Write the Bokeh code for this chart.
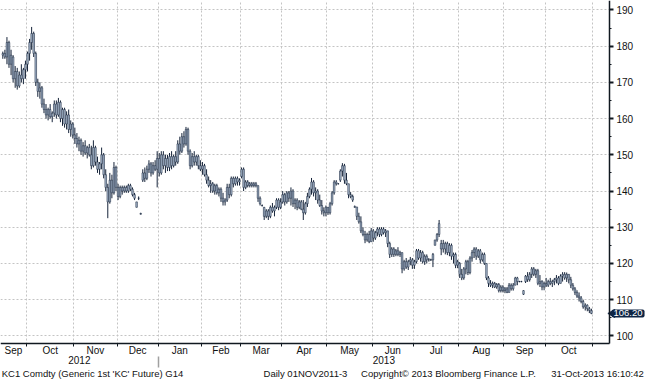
import numpy as np
import pandas as pd
from bokeh.plotting import figure
from bokeh.models import FixedTicker, LinearAxis, ColumnDataSource, Range1d, Label, BoxAnnotation
from bokeh.embed import file_html
from bokeh.resources import INLINE

# ---------------- data (KC1 Comdty, daily) ----------------
start_date = "2012-09-13"
end_date = "2013-10-31"
holidays = ["2012-11-22", "2012-12-25", "2013-01-01", "2013-01-21", "2013-02-18",
            "2013-03-29", "2013-05-27", "2013-07-04", "2013-09-02"]

open_ = [
    177.5, 178, 177, 181, 175, 177, 171, 173, 169, 172, 171, 173.5,
    175, 178, 181, 183.5, 178, 170, 167.5, 168.5, 164, 162.5, 161, 162.5, 160.5, 161.5, 164, 161, 164.5, 160, 162.5, 158.5, 161, 157, 158.5,
    155.5, 154.5, 153, 154, 151, 152.5, 150.5, 152, 150, 147, 152, 148, 146, 147.5, 150, 144.5, 141, 137, 143, 139.5, 146.5,
    141, 138.5, 141, 140, 141, 140, 141.5, 140.5, 139, 137, 138, 133.8, 143, 145, 143.5, 146, 147.5, 145, 147, 146,
    149, 145, 150, 147, 149, 146.5, 149.5, 147, 149.5, 148, 153, 151, 155, 153, 157, 151, 147, 149.5, 148, 149.5, 147,
    146, 147, 144.5, 143, 141.5, 142, 140, 141.5, 139.5, 140.5, 138, 137, 137.5, 141, 139, 143.5, 142, 143.5, 142.5,
    144, 146, 141, 142.5, 141.5, 142, 141.5, 142, 141.5, 138, 136, 135.5, 133, 134.5, 133, 135.5, 134.5, 135.5, 137.5, 135.5,
    137, 139, 137, 139.5, 138, 140, 136.5, 137.5, 135.5, 137, 135, 134, 136.5, 138.5, 140.5, 142.5, 139.5, 140, 137.5, 136, 134.5, 134,
    135.5, 134, 136.5, 139.5, 142.5, 142, 143, 145.5, 147, 143, 142, 139, 138.5, 135.7, 135.6, 133, 131.5, 129, 128, 126.5, 128, 126,
    129, 127, 128.5, 129.5, 128, 129.5, 128.5, 129, 125.5, 122.5, 124, 122.5, 123.5, 122.5, 123, 118.5, 120.5, 119, 120.5, 121,
    119.5, 120.5, 123.5, 121.5, 123, 120.5, 122, 121, 121, 121, 125, 126.5, 128, 124, 125.5, 124, 125.5, 123, 125, 122, 122.5, 119.5,
    120, 117, 116, 118.5, 120.5, 117.5, 121.5, 123, 124, 122, 123.5, 121, 122.5, 120, 116, 114.5, 114, 114.5, 113.5, 114.2, 112.5, 113.5,
    112.5, 113, 112, 114, 113, 114, 116, 115, 115, 112.5, 115, 116.5, 115.5, 117, 118.5, 117, 118, 114.5, 115, 113.5,
    114.5, 114, 115, 114.5, 115, 115.5, 116, 114.5, 116.5, 117, 116, 117, 115.5, 114, 113, 112, 111, 110.5, 109.5, 108, 108.5, 107.5, 107,
]
high = [
    178.5, 179, 182.5, 181.5, 179, 177.5, 174.5, 174, 173, 175, 174, 176,
    178.5, 182, 185.3, 184, 178.5, 171, 170, 169, 165.5, 164, 163, 164, 162, 165, 165, 165.7, 165, 163, 163, 162, 162.5, 159.5, 159,
    157.5, 156, 155, 154.5, 153.5, 154, 152.5, 153, 152.5, 154, 152.5, 149.5, 148, 152, 150.5, 146, 142, 145, 144.5, 148, 147,
    142, 141.5, 141.5, 141.5, 141.5, 142, 142, 141, 139.5, 137, 138.5, 134, 146, 146.5, 147, 148.5, 148, 148, 148.5, 151,
    150.5, 151, 151, 150, 150, 150.5, 151, 150, 151, 154, 155, 156, 156.5, 157.7, 157.5, 151.5, 150.5, 151, 150, 150, 148.5,
    148, 147.5, 146, 144, 143, 142.5, 142, 142, 141, 141, 139.5, 138, 142, 142, 144, 144, 144, 144, 143.5,
    146.5, 146.5, 143, 143, 142.5, 142.5, 142.5, 142.5, 141.5, 138.5, 136.3, 135.6, 135, 135, 136, 136.7, 136, 138, 138, 138,
    140, 139.5, 140, 140, 141, 140.5, 138, 138, 137.5, 137.5, 137.5, 137, 139.5, 141, 143.6, 143, 141, 140.5, 139, 137.5, 135.5, 136,
    135.6, 137, 140, 143, 143, 142.2, 146, 147.7, 147.5, 145, 142, 139.7, 139, 136, 135.6, 134, 133, 130, 129, 128.5, 129, 129.8,
    129.5, 129, 130, 130, 130, 130, 129.5, 129, 126, 124.5, 124.5, 124, 124.5, 123.5, 123, 121, 121.5, 121, 121.8, 121.5,
    121, 124, 124, 123.7, 123.5, 122.5, 122.5, 121.5, 121.3, 122.9, 126.5, 128.4, 132, 126.5, 126.5, 126, 126, 125.6, 125.5, 123, 123, 121,
    120.4, 118.5, 119, 121, 121, 122, 123.7, 124.5, 124.5, 124, 124, 123, 123, 120, 116.5, 115.4, 115, 114.9, 114.6, 114.6, 114, 114,
    113.5, 113.5, 114.6, 114.5, 114.6, 116.3, 116.3, 115.2, 115.2, 112.6, 116.8, 117.6, 117.6, 119, 119, 118.5, 118.5, 116.8, 115.4, 115,
    116, 115.5, 116, 115.5, 116, 116.8, 116.5, 117, 117.6, 117.6, 117.5, 117, 116.3, 114.6, 113.5, 112.6, 112, 111, 110, 109, 108.7, 108, 107.5,
]
low = [
    176.5, 176.5, 175, 174, 172, 170, 168.5, 168, 168.5, 170, 169.5, 171,
    173, 176, 179, 177, 169, 166, 165.5, 163, 161.5, 160, 159.5, 160, 159, 160.5, 160, 160.5, 159, 158, 157.5, 157, 156, 155, 154.5,
    153, 152, 151, 150, 149.5, 150, 149, 149.5, 146, 146.5, 147, 145, 144.5, 146, 143.5, 140, 132.5, 136.5, 138, 139, 140,
    137.5, 138, 139, 139.5, 139.5, 139.5, 140, 138.5, 137.5, 135.5, 137.5, 133.5, 142.5, 142.5, 143, 145, 144, 144.5, 145.5, 141,
    144, 144.5, 146, 145, 145.5, 145.5, 146, 146.5, 147, 147.5, 150, 150.5, 152, 152.5, 150, 146, 146.5, 147, 147, 146, 145.5,
    144.5, 144, 142, 141, 139.5, 139.5, 139, 139, 138.5, 137, 136, 136, 137, 138, 138.5, 141, 141.5, 141.5, 141.5,
    143.5, 140, 140.5, 141, 141, 141, 141, 141, 137, 136, 135.7, 132, 132.5, 132, 132.5, 134, 133, 135, 134.7, 135,
    136.5, 136, 136.5, 137, 136, 135.6, 135, 134.7, 135, 134.7, 132, 133.5, 135.6, 138, 139, 138.5, 137.5, 136.5, 135.6, 133.5, 133, 133,
    133.4, 133.5, 136, 139, 141.5, 141.8, 142.5, 144, 142, 141.6, 138, 138, 137, 135.4, 132, 131, 128.4, 127.5, 125.6, 126, 125.6, 126,
    126, 126.5, 127.5, 127.3, 127.5, 128, 127.3, 124.5, 121.5, 121.8, 121.8, 122, 122, 121.8, 117.3, 118, 118.5, 118.2, 119.5, 118.5,
    118.5, 120, 121, 120.5, 120, 119.6, 120, 120.5, 120.7, 119, 125, 126, 127.3, 122.3, 123, 122.5, 122.3, 122, 121, 120, 118.7, 118.7,
    116, 115.4, 115.5, 117, 116.8, 117, 120.5, 121.5, 121, 121.5, 120, 120.5, 119.6, 115.4, 113.5, 113.5, 113.2, 113.2, 113, 112, 112, 112,
    111.8, 111.8, 112, 112.5, 112.5, 114, 114, 114.8, 114.8, 111.3, 114.6, 114.9, 115, 116, 116.5, 116, 114, 113.5, 112.6, 112.6,
    113.5, 113.5, 114, 113.5, 114, 114.5, 114, 114.5, 115, 115.5, 114.9, 114.5, 113.2, 112.5, 111.3, 110.5, 109.5, 109, 107.5, 107, 106.8, 106.3, 106,
]
close = [
    178, 177, 181, 175, 177.5, 171, 173, 169, 172, 171, 173.5, 175,
    178, 181, 183.5, 178, 170, 167.5, 168.5, 164, 162.5, 161, 162.5, 160.5, 161.5, 164, 161, 164.5, 160, 162.5, 158.5, 161, 157, 158.5, 155.5,
    154.5, 153, 154, 151, 152.5, 150.5, 152, 150, 147, 152, 148, 146, 147.5, 150, 144.5, 141, 137, 143, 139.5, 146.5, 141,
    138.5, 141, 140, 141, 140, 141.5, 140.5, 139, 138, 135.5, 138, 133.6, 145, 143.5, 146, 147.5, 145, 147, 146, 149,
    145, 150, 147, 149, 146.5, 149.5, 147, 149.5, 148, 153, 151, 155, 153, 157, 151, 147, 149.5, 148, 149.5, 147, 146,
    147, 144.5, 143, 141.5, 142, 140, 141.5, 139.5, 140.5, 138, 137, 137.5, 141, 139, 143.5, 142, 143.5, 142.5, 143,
    146, 141, 142.5, 141.5, 142, 141.5, 142, 141.5, 138, 136.5, 136, 133, 134.5, 133, 135.5, 134.5, 135.5, 137.5, 135.5, 137,
    139, 137, 139.5, 138, 140, 136.5, 137.5, 135.5, 137, 135, 134, 136.5, 138.5, 140.5, 142.5, 139.5, 140, 137.5, 136, 134.5, 134, 135.5,
    134, 136.5, 139.5, 142.5, 142, 142, 145.5, 147, 143, 142, 139, 138.5, 137.5, 135.5, 133, 131.5, 129, 128, 126.5, 128, 126, 129,
    127, 128.5, 129.5, 128, 129.5, 128.5, 129, 125.5, 122.5, 124, 122.5, 123.5, 122.5, 123, 118.5, 120.5, 119, 120.5, 121, 119.5,
    120.5, 123.5, 121.5, 123, 120.5, 122, 121, 121, 121, 122.5, 126.5, 128, 131, 125.5, 124, 125.5, 123, 125, 122, 122.5, 119.5, 120.5,
    117, 116, 118.5, 120.5, 117.5, 121.5, 123, 124, 122, 123.5, 121, 122.5, 120, 116, 114.5, 114, 114.5, 113.5, 114.2, 112.5, 113.5, 112.5,
    113, 112, 114, 113, 114, 116, 115, 115, 115, 111.5, 116.5, 115.5, 117, 118.5, 117, 118, 114.5, 115, 113.5, 114.5,
    114, 115, 114.5, 115, 115.5, 116, 114.5, 116.5, 117, 116, 117, 115.5, 114, 113, 112, 111, 110.5, 109.5, 108, 108.5, 107.5, 107, 106.2,
]
last_price = "106.20"
y_ticks = [100, 110, 120, 130, 140, 150, 160, 170, 180, 190]
y_minor = [105, 115, 125, 135, 145, 155, 165, 175, 185]
month_names = ["Jan", "Feb", "Mar", "Apr", "May", "Jun", "Jul", "Aug", "Sep", "Oct", "Nov", "Dec"]
footer_texts = ["KC1 Comdty (Generic 1st 'KC' Future) G14",
                "Daily 01NOV2011-3",
                "Copyright\u00a9 2013 Bloomberg Finance L.P.",
                "31-Oct-2013 16:10:42"]

# ---------------- layout constants (pixels) ----------------
W, H = 645, 380
AXIS_X_PX = 609          # right price axis
AXIS_Y_PX = 342.5        # bottom time axis
YEAR_Y_PX = 355.5
FOOT_Y_PX = 367.5
PX_PER_DAY = 2.058
PX_PER_UNIT = 3.622
Y_TOP = 192.6
X_LEFT = -1.13
FONT = "Liberation Sans"
footer_centers_px = [92, 305, 448, 597]

# ---------------- derived ----------------
dates = pd.bdate_range(start_date, end_date)
dates = dates[~dates.isin(pd.to_datetime(holidays))]
n = len(dates)
idx = np.arange(n)
o = np.array(open_, float); h = np.array(high, float)
l = np.array(low, float); c = np.array(close, float)

px2x = lambda px: X_LEFT + px / PX_PER_DAY
px2y = lambda py: Y_TOP - py / PX_PER_UNIT
X_RIGHT, X_AX = px2x(W), px2x(AXIS_X_PX)
Y_BOT, Y_AX = px2y(H), px2y(AXIS_Y_PX)

mon = [(d.year, d.month) for d in dates]
starts = [0] + [i for i in range(1, n) if mon[i] != mon[i - 1]]
edges = [s - 0.5 for s in starts[1:]] + [n - 0.5]
seg_lo = [X_LEFT] + edges[:-1]
mid_ticks = [(max(a, X_LEFT) + min(b, X_AX)) / 2 for a, b in zip(seg_lo, edges)]
mid_labels = {m: month_names[mon[s][1] - 1] for m, s in zip(mid_ticks, starts)}

year_break = [s - 0.5 for s in starts if mon[s][1] == 1][0]
year_ticks = [(X_LEFT + year_break) / 2, (year_break + X_AX) / 2]
year_labels = {year_ticks[0]: str(mon[0][0]), year_ticks[1]: str(mon[-1][0])}

foot_ticks = [px2x(v) for v in footer_centers_px]
foot_labels = {t: s for t, s in zip(foot_ticks, footer_texts)}

src = ColumnDataSource(dict(i=idx, o=o, h=h, l=l, c=c,
                            top=np.maximum(o, c), bot=np.minimum(o, c)))

p = figure(width=W, height=H, x_range=Range1d(X_LEFT, X_RIGHT), y_range=Range1d(Y_BOT, Y_TOP),
           output_backend="svg", toolbar_location=None, y_axis_location="right",
           min_border=0, min_border_left=0, min_border_right=0, min_border_top=0,
           min_border_bottom=0,
           background_fill_color="white", border_fill_color="white", outline_line_color=None)

# grid
p.xgrid.ticker = FixedTicker(ticks=edges)
p.ygrid.ticker = FixedTicker(ticks=y_ticks)
for g in (p.xgrid, p.ygrid):
    g.grid_line_color = "#c4c4c4"
    g.grid_line_dash = "2 2"
    g.grid_line_width = 1
# keep the grid inside the chart area (white margins right of / below the axes)
p.add_layout(BoxAnnotation(left=X_AX, fill_color="white", fill_alpha=1, line_alpha=0, level="underlay"))
p.add_layout(BoxAnnotation(top=Y_AX, fill_color="white", fill_alpha=1, line_alpha=0, level="underlay"))

AX = "#101820"
TXT = "#111111"
# right price axis
ya = p.yaxis[0]
ya.fixed_location = X_AX
ya.bounds = (Y_AX, Y_TOP)
ya.ticker = FixedTicker(ticks=y_ticks, minor_ticks=y_minor)
ya.axis_line_color = AX; ya.axis_line_width = 1.5
ya.major_tick_out = 4; ya.major_tick_in = 0; ya.major_tick_line_width = 2
ya.major_tick_line_color = AX
ya.minor_tick_out = 2; ya.minor_tick_in = 0; ya.minor_tick_line_color = AX
ya.major_label_standoff = 3
ya.major_label_text_font = FONT; ya.major_label_text_font_size = "10px"
ya.major_label_text_color = TXT

# bottom month axis
xa = p.xaxis[0]
xa.fixed_location = Y_AX
xa.bounds = (X_LEFT, X_AX)
xa.ticker = FixedTicker(ticks=mid_ticks, minor_ticks=edges)
xa.major_label_overrides = mid_labels
xa.major_tick_out = 0; xa.major_tick_in = 0
xa.minor_tick_out = 3; xa.minor_tick_in = 0; xa.minor_tick_line_color = AX
xa.axis_line_color = AX; xa.axis_line_width = 1.5
xa.major_label_standoff = -1
xa.major_label_text_font = FONT; xa.major_label_text_font_size = "10px"
xa.major_label_text_color = TXT

# year row (with the grey divider between the years)
yr = LinearAxis(fixed_location=px2y(YEAR_Y_PX),
                ticker=FixedTicker(ticks=year_ticks, minor_ticks=[year_break]),
                major_label_overrides=year_labels, axis_line_color=None,
                major_tick_out=0, major_tick_in=0, minor_tick_out=11, minor_tick_in=0,
                minor_tick_line_color="#a0a0a0", minor_tick_line_width=1.5,
                major_label_standoff=-11, major_label_text_font=FONT,
                major_label_text_font_size="10px", major_label_text_color=TXT)
p.add_layout(yr, "below")

# footer row
ft = LinearAxis(fixed_location=px2y(FOOT_Y_PX),
                ticker=FixedTicker(ticks=foot_ticks), major_label_overrides=foot_labels,
                axis_line_color=None, major_tick_out=0, major_tick_in=0,
                minor_tick_out=0, minor_tick_in=0, major_label_standoff=0,
                major_label_text_font=FONT, major_label_text_font_size="9.5px",
                major_label_text_color=TXT)
p.add_layout(ft, "below")

# candles
p.segment(x0="i", y0="l", x1="i", y1="h", source=src, line_color="#16243a", line_width=1)
p.vbar(x="i", top="top", bottom="bot", width=0.8, source=src,
       fill_color="#a6b6cb", line_color="#16243a", line_width=0.5)

# last-price tag
TAG = "#0e2545"
p.scatter(x=[px2x(AXIS_X_PX + 3)], y=[c[-1]], marker="triangle", angle=np.pi / 2,
          size=8, fill_color=TAG, line_color=TAG)
p.add_layout(Label(x=X_AX, y=c[-1], x_offset=2, text=last_price, text_color="white",
                   text_font=FONT, text_font_size="9.5px", text_baseline="middle",
                   text_align="left", background_fill_color=TAG,
                   padding=dict(left=2, right=2, top=1, bottom=1),
                   border_radius=2))

open("out.html", "w").write(file_html(p, INLINE))
